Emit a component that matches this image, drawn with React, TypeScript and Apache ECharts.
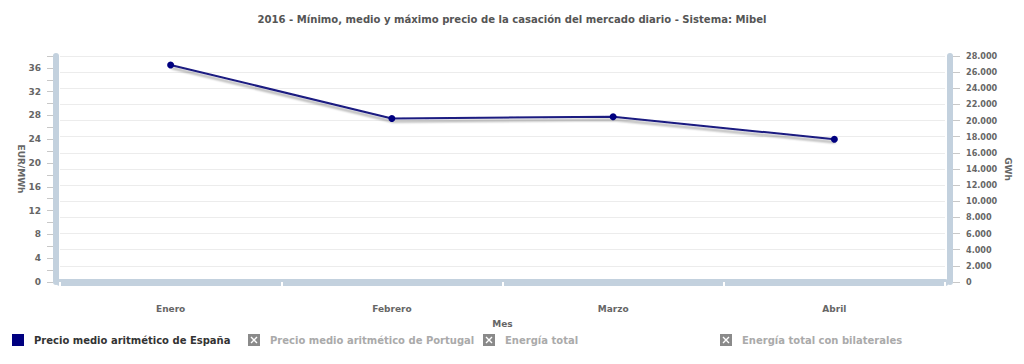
import React, { useEffect, useRef } from "react";
import * as echarts from "echarts";

const titleText = "2016 - Mínimo, medio y máximo precio de la casación del mercado diario - Sistema: Mibel";
const months = ["Enero", "Febrero", "Marzo", "Abril"];
const precioEspana = [36.5, 27.5, 27.8, 24.0];
const precioPortugal: number[] = [];
const energiaTotal: number[] = [];
const energiaBilaterales: number[] = [];
const seriesNames = [
  "Precio medio aritmético de España",
  "Precio medio aritmético de Portugal",
  "Energía total",
  "Energía total con bilaterales",
];

const FONT_C = "'DejaVu Sans Condensed', 'DejaVu Sans', sans-serif";
const FONT = "'DejaVu Sans', sans-serif";
const BAR = "#c3d1de";
const xIcon =
  "image://data:image/svg+xml;charset=utf-8," +
  encodeURIComponent(
    "<svg xmlns='http://www.w3.org/2000/svg' width='12' height='12'><rect width='12' height='12' fill='#8a8a8a'/><path d='M3 3L9 9M9 3L3 9' stroke='#ffffff' stroke-width='1.4'/></svg>"
  );

export default function App() {
  const ref = useRef<HTMLDivElement>(null);
  useEffect(() => {
    document.body.style.margin = "0";
    if (!ref.current) return;
    const chart = echarts.init(ref.current, undefined, { renderer: "svg" });
    const legendBase = {
      top: 329,
      itemWidth: 12,
      itemHeight: 12,
      textStyle: { fontFamily: FONT, fontWeight: "bold", fontSize: 10, padding: [0, 0, 0, 5] },
      selectedMode: false,
    };
    chart.setOption({
      animation: false,
      backgroundColor: "#ffffff",
      title: {
        text: titleText,
        left: "center",
        top: 9,
        textStyle: { fontFamily: FONT_C, fontWeight: "bold", fontSize: 11.2, color: "#555555" },
      },
      legend: [
        { ...legendBase, left: 7, data: [{ name: seriesNames[0], icon: "rect" }], textStyle: { ...legendBase.textStyle, color: "#333333" } },
        { ...legendBase, left: 243, data: [{ name: seriesNames[1], icon: xIcon }], textStyle: { ...legendBase.textStyle, color: "#aaaaaa" } },
        { ...legendBase, left: 478, data: [{ name: seriesNames[2], icon: xIcon }], textStyle: { ...legendBase.textStyle, color: "#aaaaaa" } },
        { ...legendBase, left: 715, data: [{ name: seriesNames[3], icon: xIcon }], textStyle: { ...legendBase.textStyle, color: "#aaaaaa" } },
      ],
      grid: { left: 60, right: 79, top: 56, bottom: 82, containLabel: false },
      xAxis: [
        {
          type: "category",
          data: months,
          position: "bottom",
          offset: 6,
          axisLine: { show: true, lineStyle: { color: BAR, width: 7 } },
          axisTick: { show: false },
          axisLabel: { margin: 16, fontFamily: FONT, fontWeight: "bold", fontSize: 9, color: "#666666" },
          name: "Mes",
          nameLocation: "middle",
          nameGap: 31,
          nameMoveOverlap: false,
          nameTextStyle: { fontFamily: FONT, fontWeight: "bold", fontSize: 9, color: "#666666" },
          splitLine: { show: false },
        },
        {
          type: "category",
          data: months,
          position: "bottom",
          offset: 2,
          axisLine: { show: false },
          axisTick: { show: true, length: 8, lineStyle: { color: "#ffffff", width: 2 } },
          axisLabel: { show: false },
          splitLine: { show: false },
        },
      ],
      yAxis: [
        {
          type: "value",
          position: "left",
          min: 0,
          max: 38,
          interval: 2,
          offset: 7,
          axisLine: { show: false },
          axisTick: { show: true, length: 6, lineStyle: { color: "#c8c8c8" } },
          axisLabel: {
            margin: 12,
            fontFamily: FONT,
            fontWeight: "bold",
            fontSize: 9,
            color: "#666666",
            formatter: (v: number) => (v % 4 === 0 ? String(v) : ""),
          },
          splitLine: { show: false },
          name: "EUR/MWh",
          nameLocation: "middle",
          nameRotate: -90,
          nameGap: 28,
          nameMoveOverlap: false,
          nameTextStyle: { fontFamily: FONT, fontWeight: "bold", fontSize: 9, color: "#666666" },
        },
        {
          type: "value",
          position: "right",
          min: 0,
          max: 28000,
          interval: 2000,
          offset: 8,
          axisLine: { show: false },
          axisTick: { show: true, length: 7, lineStyle: { color: "#c8c8c8" } },
          axisLabel: {
            margin: 13,
            fontFamily: FONT_C,
            fontWeight: "bold",
            fontSize: 9,
            color: "#666666",
            formatter: (v: number) => String(v).replace(/\B(?=(\d{3})+(?!\d))/g, "."),
          },
          splitLine: { show: true, lineStyle: { color: "#ececec", width: 1 } },
          name: "GWh",
          nameLocation: "middle",
          nameRotate: -90,
          nameGap: 50,
          nameMoveOverlap: false,
          nameTextStyle: { fontFamily: FONT, fontWeight: "bold", fontSize: 9, color: "#666666" },
        },
        {
          type: "value",
          position: "left",
          min: 0,
          max: 38,
          offset: 4.5,
          axisLine: { show: true, lineStyle: { color: BAR, width: 6 } },
          axisTick: { show: false },
          axisLabel: { show: false },
          splitLine: { show: false },
        },
        {
          type: "value",
          position: "right",
          min: 0,
          max: 28000,
          offset: 5,
          axisLine: { show: true, lineStyle: { color: BAR, width: 6 } },
          axisTick: { show: false },
          axisLabel: { show: false },
          splitLine: { show: false },
        },
      ],
      series: [
        {
          name: seriesNames[0],
          type: "line",
          yAxisIndex: 0,
          data: precioEspana,
          color: "#000080",
          symbol: "circle",
          symbolSize: 7,
          lineStyle: {
            color: "#1a1a80",
            width: 2,
            shadowColor: "rgba(0,0,0,0.35)",
            shadowOffsetY: 3,
            shadowOffsetX: 1,
            shadowBlur: 2,
          },
          itemStyle: { color: "#000080" },
        },
        { name: seriesNames[1], type: "line", yAxisIndex: 0, data: precioPortugal, color: "#888888" },
        { name: seriesNames[2], type: "line", yAxisIndex: 1, data: energiaTotal, color: "#888888" },
        { name: seriesNames[3], type: "line", yAxisIndex: 1, data: energiaBilaterales, color: "#888888" },
      ],
    });
    return () => chart.dispose();
  }, []);
  return <div ref={ref} style={{ width: 1024, height: 364 }} />;
}
